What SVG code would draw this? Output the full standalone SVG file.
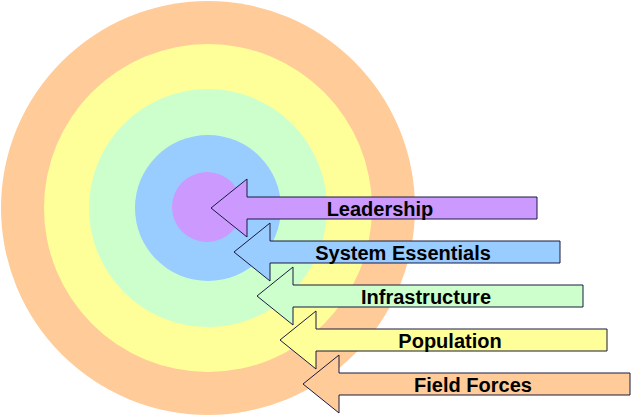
<svg xmlns="http://www.w3.org/2000/svg" width="631" height="416" viewBox="0 0 631 416">
<style>
.arr{stroke:#1a1a40;stroke-width:1}
.lbl{font-family:"Liberation Sans",Arial,sans-serif;font-weight:bold;font-size:20px;fill:#000;text-anchor:middle}
</style>
<rect width="631" height="416" fill="#fff"/>
<g id="rings">
<circle id="ring-field" cx="208" cy="208" r="207" fill="#FFCC99"/>
<circle id="ring-population" cx="208" cy="208" r="164" fill="#FFFF99"/>
<circle id="ring-infrastructure" cx="208" cy="208" r="119" fill="#CCFFCC"/>
<circle id="ring-system" cx="208" cy="208" r="73" fill="#99CCFF"/>
<circle id="ring-leadership" cx="207" cy="207" r="35" fill="#CC99FF"/>
</g>
<g id="leadership">
<path class="arr" fill="#CC99FF" d="M211,208 L247,179 L247,197 L537,197 L537,219 L247,219 L247,237 Z"/>
<text class="lbl" x="380" y="216">Leadership</text>
</g>
<g id="system-essentials">
<path class="arr" fill="#99CCFF" d="M234,252 L270,223 L270,241 L560,241 L560,263 L270,263 L270,281 Z"/>
<text class="lbl" x="403" y="260">System Essentials</text>
</g>
<g id="infrastructure">
<path class="arr" fill="#CCFFCC" d="M257,296 L293,267 L293,285 L583,285 L583,307 L293,307 L293,325 Z"/>
<text class="lbl" x="426" y="304">Infrastructure</text>
</g>
<g id="population">
<path class="arr" fill="#FFFF99" d="M280,340 L316,311 L316,329 L607,329 L607,351 L316,351 L316,369 Z"/>
<text class="lbl" x="450" y="348">Population</text>
</g>
<g id="field-forces">
<path class="arr" fill="#FFCC99" d="M303,384 L339,355 L339,373 L630,373 L630,395 L339,395 L339,413 Z"/>
<text class="lbl" x="473" y="392">Field Forces</text>
</g>
<g id="connectors"></g>
</svg>
